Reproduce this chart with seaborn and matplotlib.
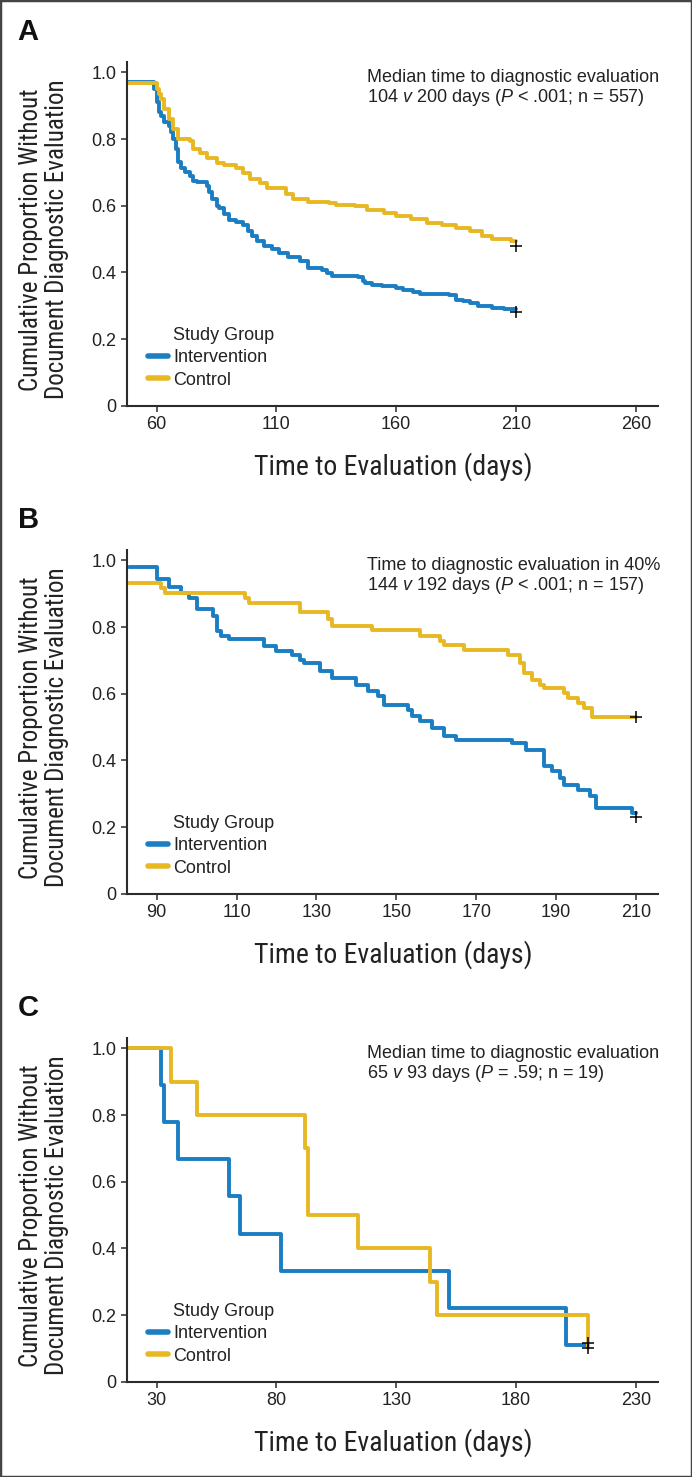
import os
import matplotlib
matplotlib.use("Agg")
import matplotlib.pyplot as plt
import seaborn as sns
from matplotlib import font_manager
from matplotlib.font_manager import FontProperties
from matplotlib.lines import Line2D
from matplotlib.patches import Rectangle

# ---------------- data ----------------
groups = ["Intervention", "Control"]

# Panel A
A_int_days = [48, 59, 60, 61, 62, 63, 65, 66, 67, 68, 69, 70, 72, 74, 75, 77, 81, 82, 83, 85, 86, 88, 90, 93,
              96, 98, 100, 102, 105, 108, 111, 115, 120, 123, 129, 131, 133, 144, 146, 147, 150, 154, 160,
              163, 167, 170, 182, 185, 188, 191, 194, 200, 205, 210]
A_int_surv = [0.972, 0.95, 0.91, 0.88, 0.87, 0.85, 0.84, 0.82, 0.80, 0.77, 0.73, 0.714, 0.70, 0.69, 0.674,
              0.67, 0.659, 0.64, 0.619, 0.60, 0.594, 0.575, 0.558, 0.55, 0.543, 0.525, 0.508, 0.495, 0.478,
              0.47, 0.458, 0.447, 0.433, 0.413, 0.408, 0.398, 0.388, 0.386, 0.375, 0.368, 0.362, 0.358,
              0.353, 0.346, 0.34, 0.335, 0.332, 0.318, 0.313, 0.308, 0.298, 0.293, 0.290, 0.290]
A_ctl_days = [48, 60, 61, 62, 63, 65, 67, 69, 74, 75, 78, 81, 85, 88, 93, 96, 99, 103, 106, 111, 114, 117,
              123, 132, 135, 143, 148, 155, 160, 166, 173, 179, 185, 191, 196, 200, 208, 210]
A_ctl_surv = [0.968, 0.95, 0.935, 0.92, 0.89, 0.86, 0.83, 0.80, 0.794, 0.769, 0.759, 0.744, 0.729, 0.721,
              0.714, 0.699, 0.681, 0.669, 0.654, 0.652, 0.634, 0.621, 0.612, 0.607, 0.602, 0.599, 0.586,
              0.577, 0.569, 0.561, 0.548, 0.541, 0.533, 0.523, 0.508, 0.500, 0.493, 0.493]
A_cens_days = [210, 210]
A_cens_surv = [0.28, 0.478]

# Panel B
B_int_days = [83, 90, 93, 96, 98, 100, 104, 105, 106, 108, 117, 120, 124, 126, 127, 131, 134, 140, 143,
              145.5, 147, 153, 154, 156, 159, 162, 165, 179, 182.5, 187, 189, 191, 192, 195.5, 198.5, 200,
              209, 210]
B_int_surv = [0.98, 0.943, 0.921, 0.903, 0.888, 0.853, 0.833, 0.788, 0.773, 0.763, 0.743, 0.727, 0.717,
              0.702, 0.692, 0.667, 0.647, 0.627, 0.607, 0.592, 0.567, 0.552, 0.532, 0.517, 0.497, 0.472,
              0.462, 0.452, 0.432, 0.382, 0.367, 0.347, 0.327, 0.312, 0.292, 0.257, 0.242, 0.242]
B_ctl_days = [83, 91, 92, 112, 113, 126, 133, 134, 144, 156, 161, 162, 167, 178, 181, 182, 184, 186, 187,
              192, 193, 195.5, 197, 199, 210]
B_ctl_surv = [0.933, 0.918, 0.903, 0.888, 0.873, 0.845, 0.823, 0.803, 0.79, 0.773, 0.758, 0.745, 0.73,
              0.717, 0.692, 0.662, 0.642, 0.627, 0.617, 0.602, 0.587, 0.572, 0.557, 0.529, 0.529]
B_cens_days = [210, 210]
B_cens_surv = [0.231, 0.529]

# Panel C
C_int_days = [18, 32, 33, 39, 60, 65, 82, 152, 201, 210]
C_int_surv = [1.0, 0.889, 0.778, 0.667, 0.556, 0.444, 0.333, 0.222, 0.111, 0.111]
C_ctl_days = [18, 36, 47, 92, 93, 114, 144, 147, 210]
C_ctl_surv = [1.0, 0.9, 0.8, 0.7, 0.5, 0.4, 0.3, 0.2, 0.1]
C_cens_days = [210, 210]
C_cens_surv = [0.115, 0.10]

A_xticks = [60, 110, 160, 210, 260]
B_xticks = [90, 110, 130, 150, 170, 190, 210]
C_xticks = [30, 80, 130, 180, 230]
y_ticks = [0, 0.2, 0.4, 0.6, 0.8, 1.0]
y_ticklabels = ["0", "0.2", "0.4", "0.6", "0.8", "1.0"]

A_note = ["Median time to diagnostic evaluation",
          r"104 $\mathit{v}$ 200 days ($\mathit{P}$ < .001; n = 557)"]
B_note = ["Time to diagnostic evaluation in 40%",
          r"144 $\mathit{v}$ 192 days ($\mathit{P}$ < .001; n = 157)"]
C_note = ["Median time to diagnostic evaluation",
          r"65 $\mathit{v}$ 93 days ($\mathit{P}$ = .59; n = 19)"]

x_label = "Time to Evaluation (days)"
y_label = "Cumulative Proportion Without\nDocument Diagnostic Evaluation"
legend_title = "Study Group"

# ---------------- style ----------------
BLUE = "#1b7dc2"
YELLOW = "#e8b824"
INK = "#2b2b2b"

sns.set_style("ticks")


def find_condensed():
    best = None
    for f in font_manager.fontManager.ttflist:
        base = os.path.basename(f.fname).lower()
        if f.style != "normal":
            continue
        w = f.weight if isinstance(f.weight, int) else 400
        if w != 400:
            continue
        rank = None
        if f.name == "Liberation Sans Narrow":
            rank = 0
        elif "roboto" in base and "condensed" in base:
            rank = 1
        elif base == "dejavusanscondensed.ttf":
            rank = 2
        elif f.name == "DejaVu Sans" and str(f.stretch) == "condensed":
            rank = 3
        if rank is not None and (best is None or rank < best[0]):
            best = (rank, f.fname)
    return best


found = find_condensed()
if found is not None:
    rank, path = found
    COND_X = FontProperties(fname=path, size=17.5 if rank >= 2 else 20)
    COND_Y = FontProperties(fname=path, size=15.5 if rank >= 2 else 18)
else:
    COND_X = FontProperties(family="Liberation Sans", size=17.2)
    COND_Y = FontProperties(family="Liberation Sans", size=16.2)

plt.rcParams["font.family"] = ["Liberation Sans", "DejaVu Sans"]
plt.rcParams["mathtext.fontset"] = "custom"
plt.rcParams["mathtext.rm"] = "Liberation Sans"
plt.rcParams["mathtext.it"] = "Liberation Sans:italic"
plt.rcParams["mathtext.bf"] = "Liberation Sans:bold"

W, H = 692, 1477
fig = plt.figure(figsize=(W / 100, H / 100), dpi=100)
fig.patch.set_facecolor("white")

ax_left = 127.3 / W
ax_width = 531.0 / W
ax_height = 344.0 / H
bottoms_px = [405.7, 893.7, 1381.7]

panels = [
    ("A", A_int_days, A_int_surv, A_ctl_days, A_ctl_surv, A_cens_days, A_cens_surv, (47.75, 269.4), A_xticks, A_note),
    ("B", B_int_days, B_int_surv, B_ctl_days, B_ctl_surv, B_cens_days, B_cens_surv, (82.65, 215.6), B_xticks, B_note),
    ("C", C_int_days, C_int_surv, C_ctl_days, C_ctl_surv, C_cens_days, C_cens_surv, (17.75, 239.4), C_xticks, C_note),
]

for (letter, idays, isurv, cdays, csurv, xd, xs, xlim, xticks, note), bpx in zip(panels, bottoms_px):
    ax = fig.add_axes([ax_left, 1 - bpx / H, ax_width, ax_height])
    sns.lineplot(x=idays, y=isurv, ax=ax, color=BLUE, lw=2.8, drawstyle="steps-post",
                 estimator=None, sort=False, legend=False)
    sns.lineplot(x=cdays, y=csurv, ax=ax, color=YELLOW, lw=2.8, drawstyle="steps-post",
                 estimator=None, sort=False, legend=False)
    sns.scatterplot(x=xd, y=xs, ax=ax, marker="+", color="black", s=70, linewidth=1.1,
                    legend=False, zorder=5)

    ax.set_xlim(*xlim)
    ax.set_ylim(0, 1.032)
    ax.set_xticks(xticks)
    ax.set_xticklabels([str(t) for t in xticks])
    ax.set_yticks(y_ticks)
    ax.set_yticklabels(y_ticklabels)
    ax.set_xlabel("")
    ax.set_ylabel("")
    for side in ["top", "right"]:
        ax.spines[side].set_visible(False)
    for side in ["left", "bottom"]:
        ax.spines[side].set_linewidth(1.5)
        ax.spines[side].set_color(INK)
    ax.tick_params(axis="both", direction="out", length=4.2, width=1.1, color=INK,
                   labelsize=13, labelcolor="#222222", pad=3.5)

    # annotation
    ax.text(0.451, 0.9417, note[0], transform=ax.transAxes, fontsize=13, color="#222222",
            ha="left", va="baseline")
    ax.text(0.451, 0.8834, note[1], transform=ax.transAxes, fontsize=13, color="#222222",
            ha="left", va="baseline")

    # legend
    handles = [Line2D([], [], color="none"),
               Line2D([], [], color=BLUE, lw=4),
               Line2D([], [], color=YELLOW, lw=4)]
    leg = ax.legend(handles, [legend_title] + groups, loc="center left",
                    bbox_to_anchor=(0.039, 0.139), frameon=False, fontsize=13,
                    handlelength=1.1, handletextpad=0.3, labelspacing=0.3,
                    borderpad=0, borderaxespad=0)
    for t in leg.get_texts():
        t.set_color("#222222")

    # axis labels
    ax.text(0.5, -0.2006, x_label, transform=ax.transAxes, ha="center", va="baseline",
            fontproperties=COND_X, color="#222222")
    ax.text(-0.157, 0.483, y_label, transform=ax.transAxes, ha="center", va="center",
            rotation=90, fontproperties=COND_Y, color="#222222",
            linespacing=1.1, multialignment="center")

    # panel letter
    top_px = bpx - 344.0
    fig.text(17.6 / W, 1 - (top_px - 22) / H, letter, ha="left", va="baseline",
             fontsize=21, fontweight="bold", color="#111111")

fig.patches.append(Rectangle((0, 0), 1, 1, transform=fig.transFigure, fill=False,
                             edgecolor="#444444", lw=2.5))

fig.savefig("out.png", dpi=100, facecolor="white")
